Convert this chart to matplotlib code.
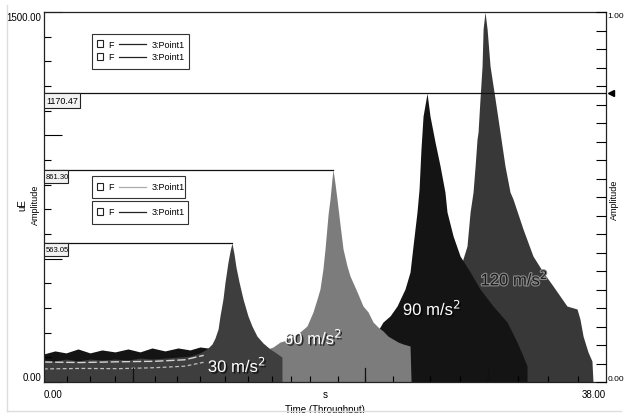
import matplotlib
matplotlib.use("Agg")
import matplotlib.pyplot as plt
import matplotlib.patheffects as pe
from matplotlib.patches import Rectangle
from matplotlib.lines import Line2D

plt.rcParams['font.family'] = ['Liberation Sans', 'DejaVu Sans']

# envelopes (time in s, amplitude in uE)
t30 = [0, 0.74, 1.49, 2.30, 3.11, 3.92, 4.80, 5.68, 6.49, 7.30, 8.18, 9.06, 9.87, 10.55,
       11.02, 11.36, 11.56, 11.77, 11.90, 12.10, 12.24, 12.44, 12.58, 12.71, 12.85, 12.98,
       13.19, 13.46, 13.79, 14.06, 14.40, 14.81, 15.28, 15.69, 16.09, 16.09]
a30 = [89, 85, 93, 85, 93, 89, 93, 89, 97, 93, 97, 101, 105, 118,
       134, 154, 178, 215, 268, 336, 405, 486, 531, 563.05, 519, 466,
       405, 336, 268, 227, 186, 158, 134, 118, 101, 0]

t60 = [14.27, 14.74, 15.49, 15.96, 16.43, 16.84, 17.31, 17.78, 18.19, 18.46, 18.66, 18.86,
       19.00, 19.21, 19.34, 19.47, 19.54, 19.68, 19.81, 20.01, 20.22, 20.49, 20.69, 21.17,
       21.57, 21.91, 22.25, 22.58, 22.92, 23.26, 23.60, 23.94, 24.28, 24.75, 24.82]
a60 = [93, 126, 142, 162, 170, 186, 203, 227, 284, 336, 377, 458,
       539, 681, 742, 823, 861.30, 803, 742, 641, 539, 470, 430, 365,
       308, 284, 243, 223, 207, 186, 174, 162, 154, 146, 0]

t90 = [0, 0.74, 1.49, 2.30, 3.11, 3.92, 4.80, 5.68, 6.49, 7.30, 8.18, 9.06, 9.87, 10.55,
       11.56, 13.25, 17.31, 22.04, 22.92, 23.40, 23.87, 24.41, 24.75, 24.95, 25.22, 25.36,
       25.49, 25.63, 25.90, 26.10, 26.44, 26.78, 27.11, 27.25, 27.66, 28.13, 28.81, 29.48,
       30.36, 31.31, 31.98, 32.39, 32.66, 32.66]
a90 = [114, 126, 118, 134, 118, 130, 122, 134, 122, 138, 126, 138, 130, 142,
       134, 101, 93, 154, 243, 268, 308, 377, 446, 551, 689, 782,
       945, 1078, 1170.47, 1078, 973, 876, 770, 689, 592, 511, 446, 377,
       308, 243, 162, 105, 65, 0]

t120 = [26.10, 26.78, 27.79, 28.33, 28.60, 28.81, 29.01, 29.15, 29.28, 29.35, 29.48, 29.62,
        29.69, 29.82, 29.96, 30.16, 30.50, 30.83, 31.17, 31.51, 31.71, 32.05, 32.39, 33.06,
        33.74, 34.42, 35.36, 36.04, 36.24, 36.45, 36.78, 37.05, 37.12]
a120 = [0, 215, 377, 499, 551, 689, 770, 876, 985, 1014, 1147, 1281,
        1431, 1500, 1431, 1281, 1147, 1014, 876, 770, 742, 681, 620, 511,
        446, 389, 308, 296, 255, 186, 122, 85, 0]

# light streaks in the low-level noise
streak_t = [0, 2.5, 5.0, 7.5, 9.5, 10.8]
streak_hi = [81, 79, 82, 84, 90, 108]
streak_lo = [53, 55, 54, 58, 64, 80]

peak_vals = [563.05, 861.30, 1170.47]
peak_times = [12.71, 19.54, 38.0]
peak_labels = ['563.05', '861.30', '1170.47']

x_min, x_max = 0, 38
y_min, y_max = 0, 1500
x_minor = [1.56, 3.11, 4.80, 7.51, 8.99, 10.55, 12.24, 13.79, 15.42, 16.70, 17.99,
           19.88, 23.60, 26.10, 28.13, 32.05, 34.08, 36.11]
x_long = [6.02, 21.71, 30.02]


def px(x, y):
    return ((x - 44) / 562, (383 - y) / 370)


def legend_row(ax, x0, y, line_color):
    sx, sy = px(x0 + 5, y + 3)
    ax.add_patch(Rectangle((sx, sy), 6 / 562, 7 / 370, transform=ax.transAxes,
                           fill=False, lw=0.8, ec='#222222', zorder=6))
    fx, fy = px(x0 + 16, y)
    ax.text(fx, fy, 'F', transform=ax.transAxes, fontsize=6.5, va='center', zorder=6)
    l0, _ = px(x0 + 27, y)
    l1, _ = px(x0 + 54, y)
    ax.add_line(Line2D([l0, l1], [fy, fy], transform=ax.transAxes, color=line_color,
                       lw=0.9, zorder=6))
    tx, _ = px(x0 + 60, y)
    ax.text(tx, fy, '3:Point1', transform=ax.transAxes, fontsize=6.5, va='center', zorder=6)


def legend_box(ax, x0, y0, x1, y1):
    bx, by = px(x0, y1)
    ax.add_patch(Rectangle((bx, by), (x1 - x0) / 562, (y1 - y0) / 370,
                           transform=ax.transAxes, fc='white', ec='#333333', lw=0.8, zorder=5))


fig = plt.figure(figsize=(6.24, 4.14), dpi=100)
ax = fig.add_axes([44 / 624, 31 / 414, 562 / 624, 370 / 414])

ax.fill_between(t120, a120, color='#383838', lw=0, zorder=1.0)
ax.fill_between(t90, a90, color='#141414', lw=0, zorder=1.1)
ax.fill_between(t60, a60, color='#7c7c7c', lw=0, zorder=1.2)
ax.fill_between(t30, a30, color='#3e3e3e', lw=0, zorder=1.3)
ax.plot(streak_t, streak_hi, color='#d4d4d4', lw=1.0, ls=(0, (6, 2)), zorder=1.4)
ax.plot(streak_t, streak_lo, color='#c0c0c0', lw=0.9, ls=(0, (3, 2)), zorder=1.4)

# cursor lines and value boxes
for v, t_end, lab in zip(peak_vals, peak_times, peak_labels):
    ax.plot([x_min, t_end], [v, v], color='#111111', lw=0.9, zorder=3)
    big = lab == '1170.47'
    w = 36 if big else 24
    h = 15 if big else 13
    bx, by = px(44, (383 - v / 4.0541) + h)
    ax.add_patch(Rectangle((bx, by), w / 562, h / 370, transform=ax.transAxes,
                           fc='#f2f2f2', ec='#222222', lw=0.8, zorder=4))
    ax.text(bx + 2 / 562, by + h / 740, lab, transform=ax.transAxes,
            fontsize=6.5 if big else 5.5, va='center', ha='left', zorder=5)
ax.plot([38.35], [1170.47], marker='<', color='black', ms=5, clip_on=False, zorder=6)

# legends
legend_box(ax, 92, 35, 189, 70)
legend_row(ax, 92, 45, '#222222')
legend_row(ax, 92, 58, '#222222')
legend_box(ax, 92, 177, 185, 199)
legend_row(ax, 92, 188, '#aaaaaa')
legend_box(ax, 92, 202, 188, 225)
legend_row(ax, 92, 213, '#222222')

# acceleration labels
shadow_dark = [pe.withSimplePatchShadow(offset=(1.2, -1.2), shadow_rgbFace='black', alpha=0.7)]
glow_light = [pe.withStroke(linewidth=1.6, foreground='#8a8a8a')]
for t, v, s, c, eff in [(13.05, 69, '30 m/s$^2$', 'white', shadow_dark),
                        (18.2, 182, '60 m/s$^2$', 'white', shadow_dark),
                        (26.24, 300, '90 m/s$^2$', 'white', shadow_dark),
                        (31.8, 420, '120 m/s$^2$', '#1a1a1a', glow_light)]:
    ax.text(t, v, s, color=c, fontsize=12, ha='center', va='center', zorder=7,
            path_effects=eff)

ax.set_xlim(x_min, x_max)
ax.set_ylim(y_min, y_max)
for s in ax.spines.values():
    s.set_linewidth(0.9)
    s.set_color('#222222')

ax.set_xticks([0, 19, 38], labels=['0.00', 's', '38.00'], fontsize=7)
ax.tick_params(axis='x', length=0, pad=5)
xl = ax.get_xticklabels()
xl[0].set_ha('left')
xl[2].set_ha('right')
ax.set_xticks(x_minor + x_long, minor=True)
ax.tick_params(axis='x', which='minor', direction='in', length=4, width=0.8)
for t in x_long:
    ax.plot([t, t], [0, 55], color='#111111', lw=0.9, zorder=2.6)
ax.set_xlabel('Time (Throughput)', fontsize=7, labelpad=4)

ax.set_yticks([0, 500, 1000, 1500], labels=['0.00', '', '', '1500.00'], fontsize=7)
ax.set_yticks(range(0, 1501, 100), minor=True)
ax.tick_params(axis='y', which='major', direction='in', length=13, width=0.8, pad=2)
ax.tick_params(axis='y', which='minor', direction='in', length=5, width=0.8)
yl = ax.get_yticklabels()
yl[0].set_va('bottom')
yl[-1].set_va('top')
fig.text(22 / 624, 1 - 205 / 414, 'uE', rotation=90, fontsize=7, ha='center', va='center')
fig.text(35 / 624, 1 - 205 / 414, 'Amplitude', rotation=90, fontsize=6.5, ha='center', va='center')

ax2 = ax.twinx()
ax2.set_ylim(0, 1)
ax2.set_yticks([0, 1], labels=['0.00', '1.00'], fontsize=6)
ax2.set_yticks([i * 0.05 for i in range(21)], minor=True)
ax2.tick_params(axis='y', which='both', direction='in', length=7, width=0.8, pad=1)
y2 = ax2.get_yticklabels()
y2[0].set_va('bottom')
y2[1].set_va('top')
for s in ax2.spines.values():
    s.set_visible(False)
fig.text(614 / 624, 1 - 200 / 414, 'Amplitude', rotation=90, fontsize=6.5,
         ha='center', va='center')

# faint outer frame of the screenshot
fig.add_artist(Line2D([7 / 624, 7 / 624], [2 / 414, 1 - 6 / 414], color='#dddddd', lw=1))
fig.add_artist(Line2D([7 / 624, 621 / 624], [2 / 414, 2 / 414], color='#dddddd', lw=1))

fig.savefig('out.png', dpi=100)
